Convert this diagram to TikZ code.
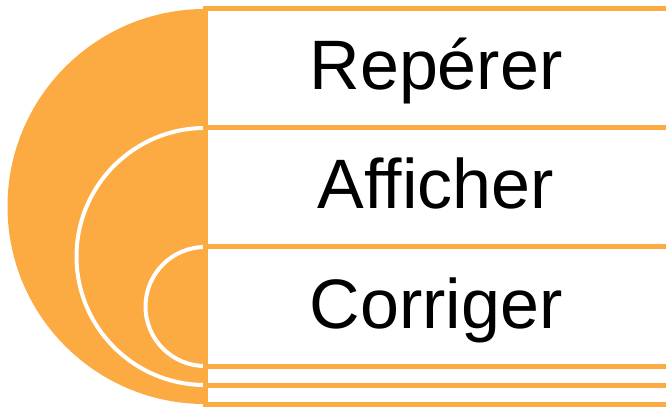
\documentclass[tikz,border=0pt]{standalone}
\usepackage{fontspec}
\setmainfont{Liberation Sans}
\usetikzlibrary{positioning}
\definecolor{tangerine}{RGB}{252,170,66}
\tikzset{
  halfdisc/.style={fill=tangerine, draw=white, line width=4pt},
  band/.style={draw=tangerine, fill=white, line width=5pt},
  word/.style={anchor=base, font=\fontsize{70}{80}\selectfont}
}
\begin{document}
\begin{tikzpicture}[x=1pt,y=1pt]
\useasboundingbox (0,0) rectangle (666,407);
% nested half discs
\fill[tangerine] (205,398) arc[start angle=90,end angle=270,radius=197.5] -- cycle;
\draw[halfdisc] (205,279) arc[start angle=90,end angle=270,radius=128.5] -- cycle;
\draw[halfdisc] (205,160) arc[start angle=90,end angle=270,radius=59.5] -- cycle;
% bands
\draw[band] (205,398) rectangle (720,3);
\draw[band] (205,279) rectangle (720,22);
\draw[band] (205,160) rectangle (720,41);
\node[word] (reperer)  at (436,317) {Repérer};
\node[word] (afficher) at (436,198) {Afficher};
\node[word] (corriger) at (436,79)  {Corriger};
\end{tikzpicture}
\end{document}
